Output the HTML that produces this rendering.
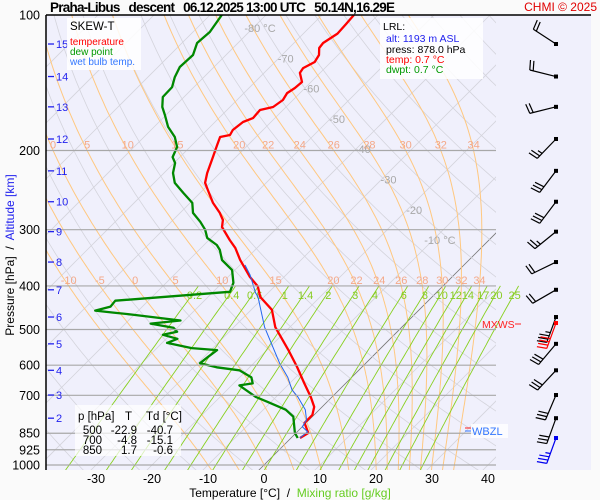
<!DOCTYPE html>
<html><head><meta charset="utf-8"><style>
html,body{margin:0;padding:0;background:#fafafa;}
svg{display:block;font-family:"Liberation Sans",Arial,sans-serif;}
</style></head><body>
<svg id="chart" width="600" height="500" viewBox="0 0 600 500">
<defs>
<clipPath id="plotClip"><rect x="46" y="15" width="450" height="455"/></clipPath>
<clipPath id="mixClip"><rect x="46" y="15" width="475" height="455"/></clipPath>
</defs>
<rect x="0" y="0" width="600" height="500" fill="#fafafa"/>
<rect x="46" y="15" width="545" height="455" fill="#f0f0fc"/>
<g id="grid" clip-path="url(#plotClip)"></g>
<g id="mix" clip-path="url(#mixClip)"></g>
<g id="labels"></g>
<g id="series" clip-path="url(#plotClip)"></g>
<g id="barbs"></g>
<g id="axes"></g>
<line x1="46" y1="15" x2="591" y2="15" stroke="#000" stroke-width="1.5"/>
<line x1="46" y1="15" x2="46" y2="470" stroke="#000" stroke-width="1.5"/>
<text x="50" y="12" font-size="13.5" font-weight="bold" textLength="345" xml:space="preserve">Praha-Libus   descent   06.12.2025 13:00 UTC   50.14N,16.29E</text>
<text x="597" y="11" font-size="12" fill="#e00000" text-anchor="end">CHMI © 2025</text>

<g>
<rect x="67" y="18" width="74" height="52" fill="#ffffff" fill-opacity="0.85"/>
<text x="70" y="30" font-size="11.5">SKEW-T</text>
<text x="70" y="45" font-size="10" fill="#ff0000">temperature</text>
<text x="70" y="55" font-size="10" fill="#009900">dew point</text>
<text x="70" y="65" font-size="10" fill="#3377ff">wet bulb temp.</text>
</g>
<g>
<rect x="380" y="18" width="103" height="61" fill="#ffffff" fill-opacity="0.85"/>
<text x="383" y="30" font-size="10.5">LRL:</text>
<text x="386" y="42" font-size="10.5" fill="#2222ee">alt: 1193 m ASL</text>
<text x="386" y="53" font-size="10.5">press: 878.0 hPa</text>
<text x="386" y="63" font-size="10.5" fill="#ff0000">temp: 0.7 °C</text>
<text x="386" y="73" font-size="10.5" fill="#009900">dwpt: 0.7 °C</text>
</g>
<g>
<rect x="75" y="405" width="106" height="51" fill="#ffffff" fill-opacity="0.7"/>
<text x="78" y="420" font-size="11.5">p [hPa]</text>
<text x="125" y="420" font-size="11.5">T</text>
<text x="146" y="420" font-size="11.5">Td [°C]</text>
<g font-size="11.5" text-anchor="end">
<text x="102" y="434">500</text><text x="137" y="434">-22.9</text><text x="173" y="434">-40.7</text>
<text x="102" y="444">700</text><text x="137" y="444">-4.8</text><text x="173" y="444">-15.1</text>
<text x="102" y="454">850</text><text x="137" y="454">1.7</text><text x="173" y="454">-0.6</text>
</g>
</g>
<text x="482" y="328" font-size="10.5" fill="#ff2222">MXWS</text>
<line x1="515" y1="324" x2="521" y2="324" stroke="#ff2222"/>
<rect x="471" y="424" width="37" height="14" fill="#ffffff" fill-opacity="0.8"/>
<line x1="465" y1="428" x2="471" y2="428" stroke="#ff2222"/>
<line x1="465" y1="431" x2="471" y2="431" stroke="#3377ff"/>
<text x="472" y="435" font-size="11" fill="#3377ff">WBZL</text>
<text transform="translate(14,255) rotate(-90)" font-size="12" text-anchor="middle" xml:space="preserve">Pressure [hPa]  /  <tspan fill="#2222ee">Altitude [km]</tspan></text>
<text x="290" y="497" font-size="12" text-anchor="middle" xml:space="preserve">Temperature [°C]  /  <tspan fill="#66cc22">Mixing ratio [g/kg]</tspan></text>
</svg>
<script>
// ---- data ----
const tempP=[100,104.7,110,115.4,118.4,122.7,127.2,131.2,134.5,140.9,145.3,149.1,154.5,160.1,162.6,169.5,172.9,180.1,184.8,186.7,194.6,206.9,224.4,236,245,261.6,275.3,285.4,295.9,316.2,329.2,350,382,401,423,452,494,555,605.6,657,706,743,774,806,849,871];
const tempT=[-64.3,-64.1,-63.9,-64.8,-64.6,-63.4,-62.9,-63.9,-63.6,-61.6,-61.8,-62.3,-61.8,-62.3,-64.1,-63.9,-65,-65.4,-65,-66.4,-65.5,-64.1,-62.3,-60.9,-59.1,-55.9,-52.9,-51.1,-50,-46.3,-43.9,-40.9,-36.1,-33,-30.7,-26.3,-22.6,-16.2,-11.6,-7.5,-3.8,-1.4,-0.3,-0.3,2.2,1.6];
const dewP=[100,109.1,115.4,122.7,130.5,137.4,144.6,152.1,160.1,166.8,177.3,186.7,196.5,206.9,213.3,224.4,236.1,248.5,261.6,275.3,288.1,300.2,312.8,324.5,332.7,350.3,368.8,393.7,412.1,414.2,431.3,444.6,453.9,458.5,463.2,477.5,485,495.3,505.8,513.7,524.4,535.5,549.7,555.4,575.8,594,606.6,616,638.6,658.6,665.5,706.1,724.1,753.7,780.7,848.8,870.9];
const dewT=[-87.9,-87,-87.3,-85.9,-86.1,-85.2,-83.9,-83.8,-82.1,-80.2,-77.5,-74.5,-72.3,-71.3,-69.8,-68.4,-66.3,-63,-59.6,-57.7,-54.8,-52.5,-50.7,-47.7,-46.3,-44.1,-40.5,-38,-37,-38.9,-55.9,-55.7,-57.7,-54.1,-50.4,-40.7,-45.5,-40.7,-39.3,-41.3,-38,-39.1,-33.8,-28.9,-29.3,-29.6,-25.9,-21.3,-17.9,-16.6,-18.6,-13.6,-10.6,-6,-3.4,-0.2,1.2];
const wbP=[359.4,378.3,414,423,494,594,638.6,681,706,753.7,793,822,843,871];
const wbT=[-39.1,-36.4,-32.3,-31.1,-24.5,-15.4,-11.4,-8.4,-6.1,-2.5,-0.5,0,1.8,1.6];
const isobars=[200,300,400,500,600,700,850,925,1000];
const pressLabels=[100,200,300,400,500,600,700,850,925,1000];
const xTicks=[-30,-20,-10,0,10,20,30,40];
const altKm=[15,14,13,12,11,10,9,8,7,6,5,4,3,2];
const altP=[116,137,160,188.6,222,260,303,354,408,469,538,616,699,787];
const thetaW=[-10,-5,0,5,10,15,20,22,24,26,28,30,32,34];
const mixRatios=[0.2,0.4,0.6,1,1.4,2,3,4,6,8,10,12,14,17,20,25];
const isoLabels=[-80,-70,-60,-50,-40,-30,-20,-10];
const barbP=[116,137,160,188.6,222,260,303,354,408,469,538,616,699,787,871];
const barbDir=[303,284,256,224,217,217,231,244,240,200,220,223,203,200,200];
const barbSpd=[20,20,20,25,30,30,25,20,20,35,30,30,30,30,35];

// ---- axis functions ----
const NS='http://www.w3.org/2000/svg';
function yP(p){return 15+450*Math.log10(p/100);}
function xT(T,p){return 264+5.6*T+(465-yP(p));}
function mk(tag,attrs,parent){const e=document.createElementNS(NS,tag);for(const k in attrs)e.setAttribute(k,attrs[k]);parent.appendChild(e);return e;}
function pathFrom(pts){return pts.map((q,i)=>(i?'L':'M')+q[0].toFixed(1)+' '+q[1].toFixed(1)).join(' ');}
const grid=document.getElementById('grid'),mix=document.getElementById('mix'),labels=document.getElementById('labels'),series=document.getElementById('series'),barbs=document.getElementById('barbs'),axes=document.getElementById('axes');
const PB=1030;
for(let T=-150;T<=50;T+=10){
  const l=mk('line',{x1:xT(T,PB),y1:yP(PB),x2:xT(T,100),y2:yP(100),stroke:T===0?'#777':'#d4d4dc','stroke-width':0.8},grid);
  
  
}
for(let th=230;th<=520;th+=10){
  const pts=[];for(let p=100;p<=PB;p+=10){pts.push([xT(th*Math.pow(p/1000,0.286)-273.15,p),yP(p)]);}
  const e=mk('path',{d:pathFrom(pts),fill:'none',stroke:'#d4d4dc','stroke-width':0.8},grid);
  
  
}
function es(Tc){return 6.112*Math.exp(17.67*Tc/(Tc+243.5));}
function moist(tw){
  const Rd=287,cp=1005,Lv=2.5e6,eps=0.622;
  function grad(T,p){const e=es(T-273.15);const rs=eps*e/(p-e);return (Rd*T+Lv*rs)/(p*(cp+Lv*Lv*rs*eps/(Rd*T*T)));}
  let T=tw+273.15;const pts=[];
  pts.push([xT(tw+grad(T,1000)*30,PB),yP(PB)]);
  for(let p=1000;p>=100;p-=5){pts.push([xT(T-273.15,p),yP(p)]);T-=grad(T,p)*5;}
  return pts;
}
const moistCurves={};
thetaW.forEach(tw=>{
  const pts=moist(tw);moistCurves[tw]=pts;
  const e=mk('path',{d:pathFrom(pts),fill:'none',stroke:'#ffc880','stroke-width':1},grid);
  
  
});
function curveXAt(pts,y){for(let i=1;i<pts.length;i++){const a=pts[i-1],b=pts[i];if((a[1]-y)*(b[1]-y)<=0){const t=(y-a[1])/(b[1]-a[1]||1);return a[0]+t*(b[0]-a[0]);}}return null;}
thetaW.forEach(tw=>{
  [200,400].forEach(p=>{
    const x=curveXAt(moistCurves[tw],yP(p));
    if(x===null||x<50||x>492)return;
    const t=mk('text',{x:x,y:yP(p)-2,'font-size':11,fill:'#f4a888','text-anchor':'middle'},labels);
    t.textContent=String(tw);
    
    
  });
});
function tFromW(w,p){const e=w*p/(622+w);const l=Math.log(e/6.112);return 243.5*l/(17.67-l);}
mixRatios.forEach(w=>{
  const pts=[];for(let p=400;p<=PB;p+=10)pts.push([xT(tFromW(w,p),p),yP(p)]);
  const e=mk('path',{d:pathFrom(pts),fill:'none',stroke:'#88d020','stroke-width':0.9},mix);
  
  
  const t=mk('text',{x:xT(tFromW(w,400),400)-4,y:yP(400)+13,'font-size':11,fill:'#88cc22','text-anchor':'middle'},labels);
  t.textContent=String(w);
  
  
});
isoLabels.forEach(T=>{
  const yy=28+(T+80)*3.03;
  const x=264+5.6*T+(465-yy)+7;
  const t=mk('text',{x:x,y:yy+4,'font-size':11,fill:'#a8a8a8','text-anchor':'middle'},labels);
  t.textContent=(T===-80||T===-10)?T+' °C':String(T);
  
  
});
isobars.forEach(p=>{
  const l=mk('line',{x1:46,y1:yP(p),x2:496,y2:yP(p),stroke:'#a8a8a8','stroke-width':1.2},axes);
  
  
});
pressLabels.forEach(p=>{
  const t=mk('text',{x:40,y:yP(p)+4.5,'font-size':12.5,'text-anchor':'end'},axes);
  t.textContent=String(p);
  
  
});
xTicks.forEach(T=>{
  const t=mk('text',{x:xT(T,1000),y:483,'font-size':12.5,'text-anchor':'middle'},axes);
  t.textContent=String(T);
  
  
});
altKm.forEach((k,i)=>{
  const y=yP(altP[i]);
  const l=mk('line',{x1:48,y1:y,x2:54,y2:y,stroke:'#2222ee','stroke-width':1.3},axes);
  
  
  const t=mk('text',{x:56,y:y+4,'font-size':11,fill:'#2222ee'},axes);
  t.textContent=String(k);
  
  
});
function drawSeries(P,T,color,w,name){
  const pts=P.map((p,i)=>[xT(T[i],p),yP(p)]);
  const e=mk('path',{d:pathFrom(pts),fill:'none',stroke:color,'stroke-width':w,'stroke-linejoin':'round'},series);
  
  
}
drawSeries(dewP,dewT,'#008800',2.3,'dew-point-line');
drawSeries(tempP,tempT,'#ff0000',2.3,'temperature-line');
drawSeries(wbP,wbT,'#2266ee',1,'wet-bulb-line');
barbP.forEach((p,i)=>{
  const bx=556,by=yP(p);
  const color=i===14?'#0000ee':'#000';
  const d=barbDir[i]*Math.PI/180;
  const ux=Math.sin(d),uy=-Math.cos(d);
  const L=27,ex=bx+ux*L,ey=by+uy*L;
  const a=80*Math.PI/180;
  const vx=ux*Math.cos(a)-uy*Math.sin(a),vy=ux*Math.sin(a)+uy*Math.cos(a);
  const g=mk('g',{stroke:color,'stroke-width':1.2,fill:'none'},barbs);
  
  
  mk('line',{x1:bx,y1:by,x2:ex,y2:ey},g);
  mk('rect',{x:bx-2,y:by-2,width:4,height:4,fill:color,stroke:'none'},g);
  let s=barbSpd[i],k=0;
  while(s>=10){const sx=ex-ux*k*3.5,sy=ey-uy*k*3.5;mk('line',{x1:sx,y1:sy,x2:sx+vx*10,y2:sy+vy*10},g);s-=10;k++;}
  if(s>=5){const sx=ex-ux*k*3.5,sy=ey-uy*k*3.5;mk('line',{x1:sx,y1:sy,x2:sx+vx*5,y2:sy+vy*5},g);}
  if(i===9){
    const r=mk('g',{stroke:'#ff0000','stroke-width':1.2,fill:'none'},barbs);
    
    
    const by2=by+6,ex2=bx+ux*L,ey2=by2+uy*L;
    mk('line',{x1:bx,y1:by2,x2:ex2,y2:ey2},r);
    mk('rect',{x:bx-2,y:by2-2,width:4,height:4,fill:'#ff0000',stroke:'none'},r);
    for(let j=0;j<4;j++){const sx=ex2-ux*j*3.5,sy=ey2-uy*j*3.5;mk('line',{x1:sx,y1:sy,x2:sx+vx*10,y2:sy+vy*10},r);}
  }
});
</script>
</body></html>
